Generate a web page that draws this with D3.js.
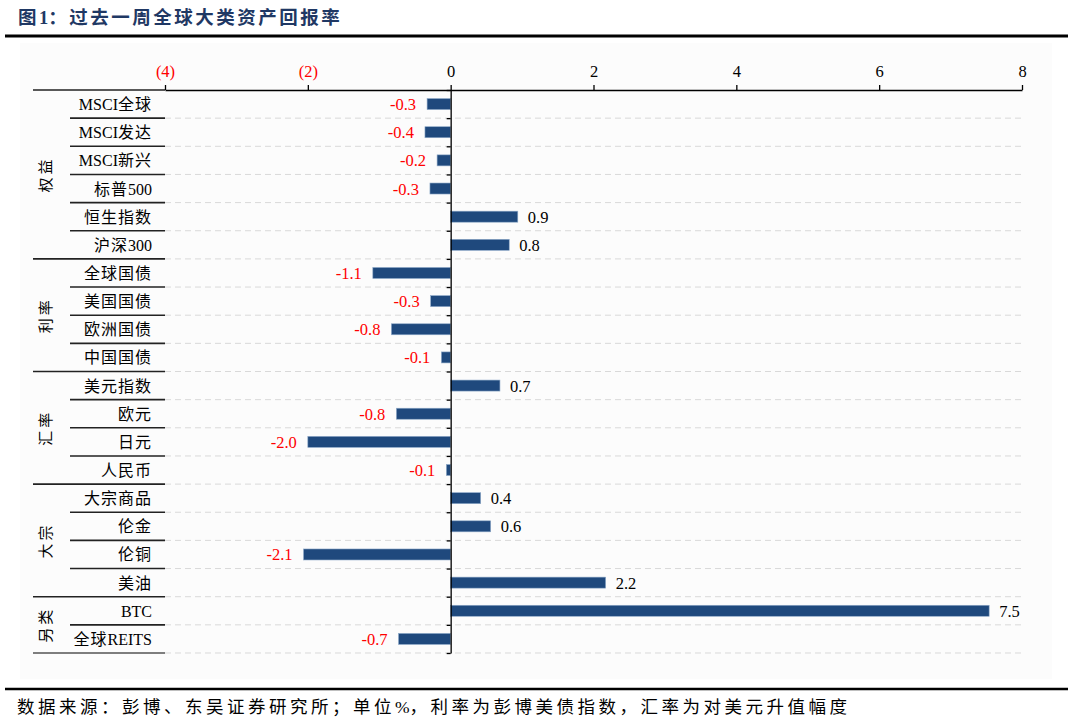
<!DOCTYPE html>
<html>
<head>
<meta charset="utf-8">
<script src="https://cdn.jsdelivr.net/npm/d3@7/dist/d3.min.js"></script>
<style>
  html, body { margin: 0; padding: 0; background: #fff; }
  svg { display: block; }
</style>
</head>
<body>
<svg id="chart" width="1074" height="719"></svg>
<script>
// ---- data ----
const categories = ["MSCI全球","MSCI发达","MSCI新兴","标普500","恒生指数","沪深300",
  "全球国债","美国国债","欧洲国债","中国国债",
  "美元指数","欧元","日元","人民币",
  "大宗商品","伦金","伦铜","美油",
  "BTC","全球REITS"];
const values = [-0.33,-0.36,-0.19,-0.29,0.94,0.82,
  -1.09,-0.28,-0.83,-0.13,
  0.69,-0.76,-2.0,-0.06,
  0.42,0.56,-2.06,2.17,
  7.54,-0.73];
const groups = ["权益","利率","汇率","大宗","另类"];
const groupSizes = [6,4,4,4,2];
const xTicks = [-4,-2,0,2,4,6,8];
const title = "图1：过去一周全球大类资产回报率";
const footer = "数据来源：彭博、东吴证券研究所；单位%，利率为彭博美债指数，汇率为对美元升值幅度";

// ---- layout ----
const svg = d3.select("#chart");
const serif = "'Liberation Serif','Times New Roman','Noto Sans CJK SC',serif";
const plotTop = 90, plotBottom = 653;
const x = d3.scaleLinear().domain([-4, 8]).range([165, 1022]);
const y = d3.scaleBand().domain(categories).range([plotTop, plotBottom]).paddingInner(0).paddingOuter(0);
const yEdge = d3.scaleLinear().domain([0, categories.length]).range([plotTop, plotBottom]);

// split text into CJK / non-CJK runs so only CJK gets letter-spacing
function runs(s) {
  const out = [];
  const re = /([\u3000-\u9fff\uff00-\uffef]+)|([^\u3000-\u9fff\uff00-\uffef]+)/g;
  let m;
  while ((m = re.exec(s)) !== null) out.push({ t: m[0], cjk: !!m[1] });
  return out;
}
function mixedText(sel, spacing) {
  sel.each(function(d) {
    const t = d3.select(this);
    const txt = typeof d === "string" ? d : t.attr("data-t");
    runs(txt).forEach(r => {
      t.append("tspan").attr("letter-spacing", r.cjk ? spacing : 0).text(r.t);
    });
  });
}

// background
svg.append("rect").attr("x", 20).attr("y", 43).attr("width", 1032).attr("height", 636).attr("fill", "#fcfcfc");

// title
svg.append("text").attr("x", 18).attr("y", 24)
  .attr("font-family", serif).attr("font-weight", "bold").attr("font-size", 18.5)
  .attr("fill", "#1f3864").attr("data-t", title).call(mixedText, 2.5);
svg.append("line").attr("x1", 5).attr("x2", 1068).attr("y1", 36).attr("y2", 36)
  .attr("stroke", "#000").attr("stroke-width", 3);

// dashed row lines
svg.append("g").selectAll("line").data(d3.range(1, categories.length + 1)).join("line")
  .attr("x1", 165).attr("x2", 1022)
  .attr("y1", d => yEdge(d)).attr("y2", d => yEdge(d))
  .attr("stroke", "#d9d9d9").attr("stroke-width", 1).attr("stroke-dasharray", "6,4");

// label table lines
const groupEnds = d3.cumsum(groupSizes);
const rowEdges = d3.range(0, categories.length + 1);
svg.append("g").selectAll("line").data(rowEdges).join("line")
  .attr("x1", d => (d === 0 || groupEnds.includes(d)) ? 33 : 70)
  .attr("x2", 165)
  .attr("y1", d => yEdge(d)).attr("y2", d => yEdge(d))
  .attr("stroke", d => d === categories.length ? "#555" : "#222").attr("stroke-width", 1.6);

// bars
svg.append("g").selectAll("rect").data(values).join("rect")
  .attr("x", d => x(Math.min(0, d)))
  .attr("width", d => Math.abs(x(d) - x(0)))
  .attr("y", (d, i) => y(categories[i]) + y.bandwidth() / 2 - 5.5)
  .attr("height", 11)
  .attr("fill", "#1f497d")
  .attr("stroke", "#8ea9c8").attr("stroke-width", 0.6);

// value labels
svg.append("g").selectAll("text").data(values).join("text")
  .attr("x", d => d < 0 ? x(d) - 11 : x(d) + 10)
  .attr("y", (d, i) => y(categories[i]) + y.bandwidth() / 2 + 6)
  .attr("text-anchor", d => d < 0 ? "end" : "start")
  .attr("font-family", serif).attr("font-size", 16.5)
  .attr("fill", d => d < 0 ? "#ff0000" : "#000")
  .text(d => d.toFixed(1));

// top axis
const xAxis = d3.axisTop(x).tickValues(xTicks).tickSize(5).tickSizeOuter(0)
  .tickFormat(d => d < 0 ? "(" + Math.abs(d) + ")" : String(d));
const gx = svg.append("g").attr("transform", `translate(0,${plotTop})`).call(xAxis);
gx.select(".domain").attr("stroke", "#000").attr("stroke-width", 1.6);
gx.selectAll(".tick line").attr("stroke", "#000").attr("stroke-width", 1.3);
gx.selectAll(".tick text").attr("font-family", serif).attr("font-size", 16.5)
  .attr("y", -13).attr("dy", 0)
  .attr("fill", d => d < 0 ? "#ff0000" : "#000");

// vertical zero axis
const yAxis = d3.axisLeft(yEdge).tickValues(rowEdges).tickSize(4).tickSizeOuter(0).tickFormat("");
const gy = svg.append("g").attr("transform", `translate(${x(0)},0)`).call(yAxis);
gy.select(".domain").attr("stroke", "#000").attr("stroke-width", 1.3);
gy.selectAll(".tick line").attr("stroke", "#000").attr("stroke-width", 1.3);

// category labels
svg.append("g").selectAll("text").data(categories).join("text")
  .attr("x", 152)
  .attr("y", d => y(d) + y.bandwidth() / 2 + 6)
  .attr("text-anchor", "end")
  .attr("font-family", serif).attr("font-size", 16)
  .attr("fill", "#000").call(mixedText, 1.0);

// group labels (vertical)
const groupStarts = [0, ...groupEnds.slice(0, -1)];
svg.append("g").selectAll("text").data(groups).join("text")
  .attr("transform", (d, i) => {
    const cy = (yEdge(groupStarts[i]) + yEdge(groupEnds[i])) / 2;
    return `translate(51,${cy}) rotate(-90)`;
  })
  .attr("text-anchor", "middle")
  .attr("font-family", serif).attr("font-size", 15)
  .attr("letter-spacing", 3)
  .attr("fill", "#000").text(d => d);

// footer
svg.append("line").attr("x1", 5).attr("x2", 1068).attr("y1", 689).attr("y2", 689)
  .attr("stroke", "#000").attr("stroke-width", 2.5);
svg.append("text").attr("x", 17).attr("y", 713)
  .attr("font-family", serif).attr("font-size", 17.5)
  .attr("fill", "#000").attr("data-t", footer).call(mixedText, 3.5);
</script>
</body>
</html>
